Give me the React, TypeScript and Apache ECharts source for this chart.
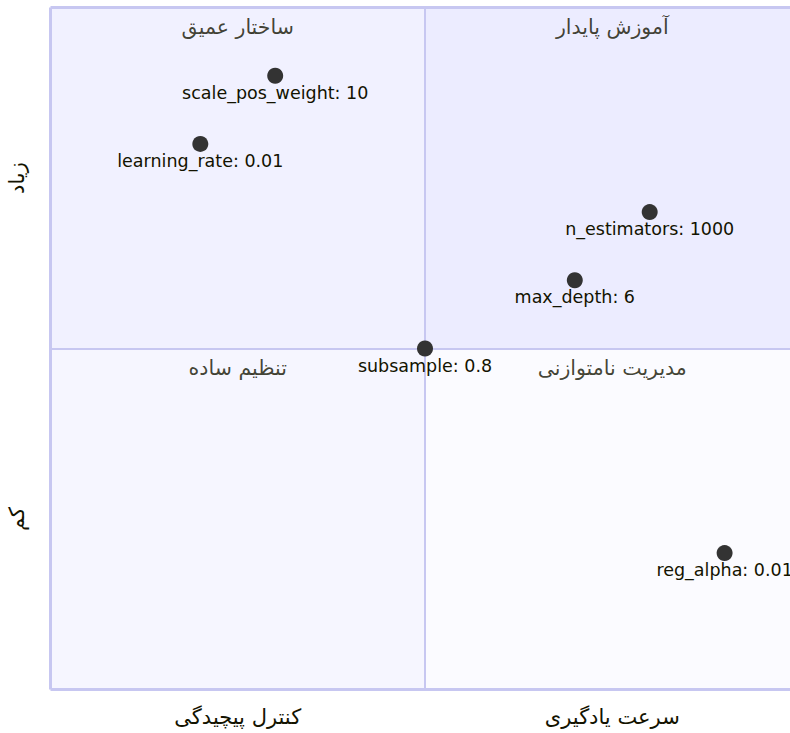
import React, { useEffect, useRef } from "react";
import * as echarts from "echarts";

const pointNames = ["scale_pos_weight: 10", "learning_rate: 0.01", "n_estimators: 1000", "max_depth: 6", "subsample: 0.8", "reg_alpha: 0.01"];
const pointX = [0.3, 0.2, 0.8, 0.7, 0.5, 0.9];
const pointY = [0.9, 0.8, 0.7, 0.6, 0.5, 0.2];

const quadrantLabels = ["آموزش پایدار", "ساختار عمیق", "تنظیم ساده", "مدیریت نامتوازنی"];
const quadrantLabelX = [0.75, 0.25, 0.25, 0.75];
const quadrantLabelY = [1, 1, 0.5, 0.5];
const quadrantFills = ["#ECECFF", "#F1F1FF", "#F6F6FF", "#FBFBFF"];

const xAxisLabels = ["کنترل پیچیدگی", "سرعت یادگیری"];
const yAxisLabels = ["کم", "زیاد"];

const FONT = "'Trebuchet MS', 'DejaVu Sans', sans-serif";
const TEXT = "#131300";
const BORDER = "#c7c7f1";

export default function App() {
  const ref = useRef<HTMLDivElement>(null);
  useEffect(() => {
    if (!ref.current) return;
    const chart = echarts.init(ref.current, undefined, { renderer: "svg" });
    const option = {
      animation: false,
      grid: { left: 50.5, top: 7.5, width: 749, height: 682, show: false },
      xAxis: {
        type: "value", min: 0, max: 1, interval: 0.25,
        axisLine: { show: false }, axisTick: { show: false }, splitLine: { show: false },
        axisLabel: {
          show: true, margin: 17, fontSize: 21, color: TEXT, fontFamily: FONT,
          formatter: (v: number) => (Math.abs(v - 0.25) < 1e-6 ? xAxisLabels[0] : Math.abs(v - 0.75) < 1e-6 ? xAxisLabels[1] : ""),
        },
      },
      yAxis: {
        type: "value", min: 0, max: 1, interval: 0.25,
        axisLine: { show: false }, axisTick: { show: false }, splitLine: { show: false },
        axisLabel: {
          show: true, margin: 34, rotate: 90, fontSize: 21, color: TEXT, fontFamily: FONT,
          align: "center", verticalAlign: "middle",
          formatter: (v: number) => (Math.abs(v - 0.25) < 1e-6 ? yAxisLabels[0] : Math.abs(v - 0.75) < 1e-6 ? yAxisLabels[1] : ""),
        },
      },
      series: [
        {
          type: "scatter", z: 1, clip: false, silent: true, data: [],
          markArea: {
            silent: true, z: 0,
            data: [
              [{ xAxis: 0.5, yAxis: 0.5, itemStyle: { color: quadrantFills[0] } }, { xAxis: 1, yAxis: 1 }],
              [{ xAxis: 0, yAxis: 0.5, itemStyle: { color: quadrantFills[1] } }, { xAxis: 0.5, yAxis: 1 }],
              [{ xAxis: 0, yAxis: 0, itemStyle: { color: quadrantFills[2] } }, { xAxis: 0.5, yAxis: 0.5 }],
              [{ xAxis: 0.5, yAxis: 0, itemStyle: { color: quadrantFills[3] } }, { xAxis: 1, yAxis: 0.5 }],
            ],
          },
          markLine: {
            silent: true, z: 1, symbol: "none", label: { show: false },
            lineStyle: { color: BORDER, type: "solid", width: 2 },
            data: [
              { xAxis: 0.5 }, { yAxis: 0.5 },
              { xAxis: 0, lineStyle: { width: 3, color: BORDER, type: "solid" } },
              { xAxis: 1, lineStyle: { width: 3, color: BORDER, type: "solid" } },
              { yAxis: 0, lineStyle: { width: 3, color: BORDER, type: "solid" } },
              { yAxis: 1, lineStyle: { width: 3, color: BORDER, type: "solid" } },
            ],
          },
        },
        {
          type: "scatter", z: 3, symbolSize: 0, clip: false, silent: true,
          data: quadrantLabels.map((n, i) => ({ name: n, value: [quadrantLabelX[i], quadrantLabelY[i]] })),
          label: {
            show: true, position: "inside", offset: [0, 19.5], formatter: "{b}",
            fontSize: 20.5, color: TEXT, fontFamily: FONT, align: "center", verticalAlign: "middle",
          },
        },
        {
          type: "scatter", z: 4, symbol: "circle", symbolSize: 16, clip: false, silent: true,
          itemStyle: { color: "#333333", opacity: 1 },
          data: pointNames.map((n, i) => ({ name: n, value: [pointX[i], pointY[i]] })),
          label: {
            show: true, position: "inside", offset: [0, 17], formatter: "{b}",
            fontSize: 17.5, color: TEXT, fontFamily: FONT, align: "center", verticalAlign: "middle",
          },
        },
      ],
    };
    chart.setOption(option as any);
    return () => chart.dispose();
  }, []);
  return (
    <div style={{ position: "absolute", left: 0, top: 0, width: 790, height: 733, overflow: "hidden" }}>
      <div ref={ref} style={{ width: 820, height: 733 }} />
    </div>
  );
}
